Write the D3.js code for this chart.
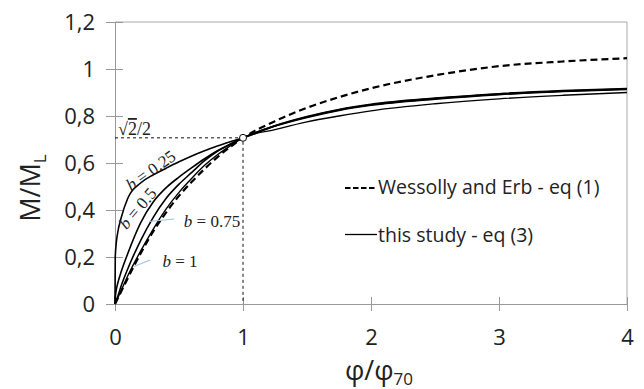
<!DOCTYPE html>
<html>
  <head>
    <meta charset="UTF-8" />
    <style>
      body {
        margin: 0;
        background-color: #ffffff;
      }
      svg text {
        font-family: "Open Sans", sans-serif;
        fill: #222;
      }
      .axis path,
      .axis line {
        stroke: #999;
      }
      .math {
        font-family: "Liberation Serif", serif !important;
      }
    </style>
  </head>

  <body>
    <svg width="644" height="389"></svg>

    <script src="https://d3js.org/d3.v7.min.js"></script>
    <script>
      // phi / phi70 sample points
      const phi = [0, 0.002, 0.01, 0.02, 0.05, 0.1, 0.2, 0.3, 0.4, 0.5, 0.6, 0.7, 0.8, 0.9, 1,
        1.25, 1.5, 1.75, 2, 2.5, 3, 3.5, 4];

      // M/ML
      const wessolly = [0, 0.002, 0.011, 0.022, 0.055, 0.11, 0.215, 0.31, 0.39, 0.46, 0.52, 0.575, 0.625, 0.668, 0.707,
        0.778, 0.835, 0.88, 0.918, 0.973, 1.012, 1.032, 1.046];
      const b025 = [0, 0.2, 0.26, 0.3, 0.37, 0.45, 0.515, 0.55, 0.578, 0.605, 0.63, 0.652, 0.672, 0.69, 0.707,
        0.757, 0.794, 0.824, 0.846, 0.872, 0.891, 0.904, 0.913];
      const b05 = [0, 0.025, 0.06, 0.085, 0.14, 0.215, 0.345, 0.435, 0.495, 0.54, 0.58, 0.618, 0.652, 0.68, 0.707,
        0.758, 0.796, 0.826, 0.848, 0.874, 0.893, 0.906, 0.915];
      const b075 = [0, 0.003, 0.015, 0.03, 0.08, 0.15, 0.27, 0.37, 0.45, 0.51, 0.56, 0.61, 0.65, 0.68, 0.707,
        0.759, 0.798, 0.828, 0.85, 0.876, 0.895, 0.908, 0.917];
      const b1 = [0, 0.002, 0.012, 0.024, 0.06, 0.12, 0.225, 0.32, 0.405, 0.475, 0.535, 0.59, 0.635, 0.673, 0.707,
        0.742, 0.775, 0.8, 0.822, 0.852, 0.873, 0.888, 0.9];

      const xTicks = [0, 1, 2, 3, 4];
      const yTicks = [0, 0.2, 0.4, 0.6, 0.8, 1, 1.2];
      const yTickLabels = ["0", "0,2", "0,4", "0,6", "0,8", "1", "1,2"];
      const refPoint = [1, Math.SQRT2 / 2];

      const plotL = 115, plotR = 627, plotT = 22, plotB = 304;

      const svg = d3.select("svg");

      const x = d3.scaleLinear().domain([0, 4]).range([plotL, plotR]);
      const y = d3.scaleLinear().domain([0, 1.2]).range([plotB, plotT]);

      // frame (top and right)
      svg.append("path")
        .attr("d", `M${plotL},${plotT}H${plotR}V${plotB}`)
        .attr("fill", "none")
        .attr("stroke", "#aaa");

      // axes
      const yAxis = svg.append("g")
        .attr("class", "axis")
        .attr("transform", `translate(${plotL},0)`)
        .call(d3.axisLeft(y).tickValues(yTicks).tickSize(9).tickSizeOuter(0).tickPadding(11)
          .tickFormat((d, i) => yTickLabels[i]));
      yAxis.selectAll(".tick line").attr("x1", 8);
      yAxis.selectAll("text").attr("font-size", 22).attr("dy", "0.36em");

      const xAxis = svg.append("g")
        .attr("class", "axis")
        .attr("transform", `translate(0,${plotB})`)
        .call(d3.axisBottom(x).tickValues(xTicks).tickSize(7).tickSizeOuter(0).tickPadding(18)
          .tickFormat(d3.format("d")));
      xAxis.selectAll(".tick line").attr("y1", -7);
      xAxis.selectAll("text").attr("font-size", 22);
      svg.selectAll(".axis .domain").attr("stroke", "#999");

      // dashed guides to sqrt(2)/2
      svg.append("path")
        .attr("d", `M${x(0)},${y(refPoint[1])}H${x(refPoint[0])}V${y(0)}`)
        .attr("fill", "none")
        .attr("stroke", "#111")
        .attr("stroke-width", 1)
        .attr("stroke-dasharray", "3,3");

      const line = (vals) => d3.line()
        .x((d, i) => x(phi[i]))
        .y((d) => y(d))
        .curve(d3.curveMonotoneX)(vals);

      [b025, b05, b075].forEach((s) => {
        svg.append("path").attr("d", line(s))
          .attr("fill", "none").attr("stroke", "#000").attr("stroke-width", 1.6);
      });
      svg.append("path").attr("d", line(b1))
        .attr("fill", "none").attr("stroke", "#000").attr("stroke-width", 1.4);

      svg.append("path").attr("d", line(wessolly))
        .attr("fill", "none")
        .attr("stroke", "#000")
        .attr("stroke-width", 2.2)
        .attr("stroke-dasharray", "7,4");

      svg.append("circle")
        .attr("cx", x(refPoint[0]))
        .attr("cy", y(refPoint[1]))
        .attr("r", 3.5)
        .attr("fill", "#fff")
        .attr("stroke", "#000")
        .attr("stroke-width", 1);

      // leader lines
      svg.append("line").attr("x1", 149).attr("y1", 221.5).attr("x2", 174).attr("y2", 219)
        .attr("stroke", "#9dc3e6").attr("stroke-width", 1.2);
      svg.append("line").attr("x1", 134).attr("y1", 266.5).attr("x2", 150).attr("y2", 260)
        .attr("stroke", "#9dc3e6").attr("stroke-width", 1.2);

      // math labels
      const bLabel = (txt, tx, ty, rot) => {
        const t = svg.append("text")
          .attr("class", "math")
          .attr("font-size", 17)
          .attr("text-anchor", "middle")
          .attr("transform", `translate(${tx},${ty}) rotate(${rot})`);
        t.append("tspan").attr("font-style", "italic").text("b");
        t.append("tspan").text(" = " + txt);
      };
      bLabel("0.25", 154, 175, -35);
      bLabel("0.5", 142, 212, -50);
      bLabel("0.75", 212, 227, 0);
      bLabel("1", 180, 267, 0);

      const sq = svg.append("text").attr("class", "math")
        .attr("font-size", 18).attr("x", 118).attr("y", 135);
      sq.append("tspan").text("√");
      sq.append("tspan").attr("text-decoration", "overline").text("2");
      sq.append("tspan").text("/2");

      // legend
      svg.append("line").attr("x1", 345).attr("x2", 377).attr("y1", 188).attr("y2", 188)
        .attr("stroke", "#000").attr("stroke-width", 2).attr("stroke-dasharray", "5.5,2.5");
      svg.append("text").attr("x", 378).attr("y", 194).attr("font-size", 19.5)
        .text("Wessolly and Erb - eq (1)");
      svg.append("line").attr("x1", 345).attr("x2", 377).attr("y1", 234.5).attr("y2", 234.5)
        .attr("stroke", "#000").attr("stroke-width", 1.3);
      svg.append("text").attr("x", 378).attr("y", 242).attr("font-size", 19.5)
        .text("this study - eq (3)");

      // axis titles
      const yt = svg.append("text")
        .attr("font-size", 27)
        .attr("text-anchor", "middle")
        .attr("transform", "translate(40,188) rotate(-90)");
      yt.append("tspan").text("M/M");
      yt.append("tspan").attr("font-size", 17).attr("dy", 6).text("L");

      const xt = svg.append("text")
        .attr("font-size", 27)
        .attr("text-anchor", "middle")
        .attr("x", 379)
        .attr("y", 380);
      xt.append("tspan").text("φ/φ");
      xt.append("tspan").attr("font-size", 17).attr("dy", 5).text("70");
    </script>
  </body>
</html>
